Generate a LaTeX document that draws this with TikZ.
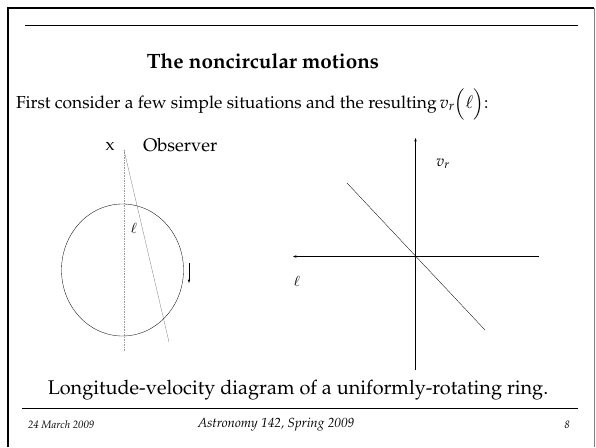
\documentclass[tikz,border=0pt]{standalone}
\usepackage{amsmath,amssymb}
\usepackage[T1]{fontenc}
\usepackage{mathpazo}
\usepackage{xcolor}
\usetikzlibrary{positioning}

\begin{document}
\begin{tikzpicture}[
  x=1.208pt, y=-1.208pt,
  every node/.style={inner sep=0pt, outer sep=0pt},
  body/.style={font=\fontsize{21}{25}\selectfont},
  foot/.style={font=\fontsize{13}{15}\selectfont\itshape},
  sight/.style={gray!80, line width=0.8pt, dash pattern=on 1pt off 1pt},
  axis/.style={-latex, thin},
  rule/.style={line width=1.2pt}
]
  \useasboundingbox (0,0) rectangle (596,447);
  % slide frame
  \draw[line width=2.6pt] (8,447) -- (8,8) -- (594,8);
  \draw[gray, thin] (594,8) -- (594,447);
  \draw[rule] (25,25) -- (578,25);
  \draw[rule] (22,408) -- (578,408);

  % title and text
  \node (title) at (263,61) {\fontsize{25}{29}\selectfont\bfseries The noncircular motions};
  \node (intro) [body, anchor=west] at (16,104)
    {First consider a few simple situations and the resulting\,$v_r\Bigl(\ell\Bigr)$:};

  % ring seen by the observer
  \node (obs) [body] at (110,146) {x};
  \node (obslab) [font=\fontsize{22}{26}\selectfont, anchor=west] at (143,145) {Observer};
  \coordinate (eye) at (124,150);
  \coordinate (down) at (124,351);
  \coordinate (los) at (169,342);
  \draw[sight] (eye) -- (down);
  \draw[gray, thin] (eye) -- (los);
  \draw (122.5,270) ellipse [x radius=61, y radius=66];
  \node (lon) at (134,228) {\fontsize{17}{19}\selectfont$\ell$};
  \coordinate (rot1) at (189,263);
  \coordinate (rot2) at (189,283);
  \draw[-latex, thin] (rot1) -- (rot2);

  % v_r versus l
  \coordinate (vtop) at (415.5,138);
  \coordinate (vbot) at (415.5,370);
  \coordinate (lright) at (539,256.5);
  \coordinate (lleft) at (293,256.5);
  \draw[axis] (vbot) -- (vtop);
  \draw[axis] (lright) -- (lleft);
  \node (vr) at (443,164) {\fontsize{19}{22}\selectfont$v_r$};
  \node (ell) at (297,281) {\fontsize{17}{19}\selectfont$\ell$};
  \coordinate (ringa) at (347,183);
  \coordinate (ringb) at (485,330);
  \draw[thin] (ringa) -- (ringb);

  % caption and footer
  \node (cap) [font=\fontsize{24}{28}\selectfont] at (298,390) {Longitude-velocity diagram of a uniformly-rotating ring.};
  \node (date) [foot, anchor=west] at (28,425) {24 March 2009};
  \node (course) [font=\fontsize{16}{18}\selectfont\itshape] at (276,425) {Astronomy 142, Spring 2009};
  \node (page) [foot] at (567,425) {8};
\end{tikzpicture}
\end{document}
